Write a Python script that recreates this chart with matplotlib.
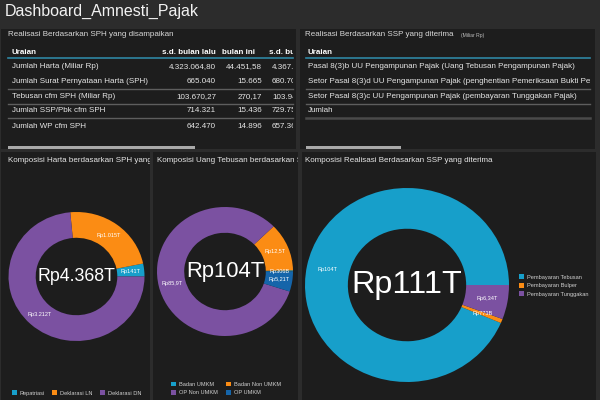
import matplotlib
matplotlib.use('Agg')
import matplotlib.pyplot as plt
import matplotlib.transforms as mtrans
import numpy as np
from matplotlib.patches import Rectangle

plt.rcParams['font.family'] = ['Liberation Sans', 'DejaVu Sans']

# ---------------- data ----------------
dashboard_title = "Dashboard_Amnesti_Pajak"

t1_title = "Realisasi Berdasarkan SPH yang disampaikan"
t1_columns = ["Uraian", "s.d. bulan lalu", "bulan ini", "s.d. bulan ini"]
t1_rows = ["Jumlah Harta (Miliar Rp)", "Jumlah Surat Pernyataan Harta (SPH)",
           "Tebusan cfm SPH (Miliar Rp)", "Jumlah SSP/Pbk cfm SPH", "Jumlah WP cfm SPH"]
t1_prev = ["4.323.064,80", "665.040", "103.670,27", "714.321", "642.470"]
t1_month = ["44.451,58", "15.665", "270,17", "15.436", "14.896"]
t1_total = ["4.367.516,38", "680.705", "103.940,44", "729.757", "657.366"]

t2_title = "Realisasi Berdasarkan SSP yang diterima"
t2_unit = "(Miliar Rp)"
t2_columns = ["Uraian"]
t2_rows = ["Pasal 8(3)b UU Pengampunan Pajak (Uang Tebusan Pengampunan Pajak)",
           "Setor Pasal 8(3)d UU Pengampunan Pajak (penghentian Pemeriksaan Bukti Permulaan)",
           "Setor Pasal 8(3)c UU Pengampunan Pajak (pembayaran Tunggakan Pajak)",
           "Jumlah"]

harta_title = "Komposisi Harta berdasarkan SPH yang disampaikan"
harta_labels = ["Repatriasi", "Deklarasi LN", "Deklarasi DN"]
harta_values = [141, 1015, 3212]
harta_text = ["Rp141T", "Rp1.015T", "Rp3.212T"]
harta_total = "Rp4.368T"

tebusan_title = "Komposisi Uang Tebusan berdasarkan SPH"
tebusan_labels = ["Badan UMKM", "Badan Non UMKM", "OP Non UMKM", "OP UMKM"]
tebusan_values = [0.306, 12.5, 85.9, 5.21]
tebusan_text = ["Rp306B", "Rp12,5T", "Rp85,9T", "Rp5,21T"]
tebusan_total = "Rp104T"

ssp_title = "Komposisi Realisasi Berdasarkan SSP yang diterima"
ssp_labels = ["Pembayaran Tebusan", "Pembayaran Bulper", "Pembayaran Tunggakan"]
ssp_values = [104, 0.773, 6.34]
ssp_text = ["Rp104T", "Rp773B", "Rp6,34T"]
ssp_total = "Rp111T"

# ---------------- style ----------------
W, H = 600, 400
BG = '#2c2c2c'
PANEL = '#1d1d1d'
TXT = '#e6e6e6'
TEAL = '#179fca'
ORANGE = '#fb8c14'
PURPLE = '#7b51a1'
DBLUE = '#1565aa'
LINE = '#5e5e5e'
HEADLINE = '#2f86a3'

fig = plt.figure(figsize=(6, 4), dpi=100, facecolor=BG)


def fr(x0, y0, x1, y1):
    return [x0 / W, 1 - y1 / H, (x1 - x0) / W, (y1 - y0) / H]


def panel(x0, y0, x1, y1):
    ax = fig.add_axes(fr(x0, y0, x1, y1))
    ax.set_xlim(x0, x1)
    ax.set_ylim(y1, y0)
    ax.set_facecolor(PANEL)
    ax.set_xticks([])
    ax.set_yticks([])
    for s in ax.spines.values():
        s.set_visible(False)
    return ax


def clipped(ax, x, y, s, xmax, **kw):
    t = ax.text(x, y, s, va='center', clip_on=True, **kw)
    t.set_clip_box(mtrans.Bbox.from_extents(0, 0, xmax, H))
    return t


FS = 5.8

fig.text(5 / W, 1 - 11 / H, dashboard_title, fontsize=11.5, color='#f2f2f2',
         ha='left', va='center')

# ---------- table 1 ----------
a1 = panel(1, 29, 296, 149)
X1 = 293
clipped(a1, 8, 35, t1_title, X1, fontsize=FS, color='#d8d8d8', ha='left')
clipped(a1, 12, 52, t1_columns[0], X1, fontsize=FS, color='white', ha='left', fontweight='bold')
clipped(a1, 216, 52, t1_columns[1], X1, fontsize=FS, color='white', ha='right', fontweight='bold')
clipped(a1, 255, 52, t1_columns[2], X1, fontsize=FS, color='white', ha='right', fontweight='bold')
clipped(a1, 269, 52, t1_columns[3], X1, fontsize=FS, color='white', ha='left', fontweight='bold')
a1.plot([8, X1], [58, 58], color=HEADLINE, lw=1.2)
row_y = [67, 81.5, 96.5, 111, 126]
for i, y in enumerate(row_y):
    clipped(a1, 12, y, t1_rows[i], X1, fontsize=FS, color=TXT, ha='left')
    clipped(a1, 216, y, t1_prev[i], X1, fontsize=FS, color=TXT, ha='right')
    clipped(a1, 262, y, t1_month[i], X1, fontsize=FS, color=TXT, ha='right')
    clipped(a1, 272, y, t1_total[i], X1, fontsize=FS, color=TXT, ha='left')
for y in [88.5, 103.5, 118]:
    a1.plot([8, X1], [y, y], color=LINE, lw=1)
a1.add_patch(Rectangle((8, 146), 187, 2.5, color='#a9a9a9', lw=0))

# ---------- table 2 ----------
a2 = panel(300, 29, 595, 149)
X2 = 590
clipped(a2, 305, 35, t2_title, X2, fontsize=FS, color='#d8d8d8', ha='left')
clipped(a2, 461, 36, t2_unit, X2, fontsize=3.6, color='#bdbdbd', ha='left')
clipped(a2, 308, 52, t2_columns[0], X2, fontsize=FS, color='white', ha='left', fontweight='bold')
a2.plot([306, X2], [58, 58], color=HEADLINE, lw=1.2)
for i, y in enumerate(row_y[:4]):
    clipped(a2, 308, y, t2_rows[i], X2, fontsize=FS, color=TXT, ha='left')
for y in [88.5, 103.5]:
    a2.plot([306, X2], [y, y], color=LINE, lw=1)
a2.plot([306, X2], [117.5, 117.5], color='#4a4a4a', lw=1.8)
a2.add_patch(Rectangle((306, 146), 95, 2.5, color='#a9a9a9', lw=0))

# ---------- donut panels ----------
a3 = panel(1, 152, 150, 400)
a4 = panel(153, 152, 298, 400)
a5 = panel(302, 152, 596, 400)
a3.text(8, 161, harta_title, fontsize=FS, color=TXT, ha='left', va='center', clip_on=True)
a4.text(157, 161, tebusan_title, fontsize=FS, color=TXT, ha='left', va='center', clip_on=True)
a5.text(305, 161, ssp_title, fontsize=FS, color=TXT, ha='left', va='center', clip_on=True)


def donut(cx, cy, rx, ry, values, colors, texts, total, total_fs, width, lab_fs=4.0):
    ax = fig.add_axes(fr(cx - rx, cy - ry, cx + rx, cy + ry))
    wedges, _ = ax.pie(values, colors=colors, startangle=0, counterclock=True,
                       radius=1, wedgeprops=dict(width=width, edgecolor='none', linewidth=0))
    ax.set_aspect('auto')
    ax.set_xlim(-1, 1)
    ax.set_ylim(-1, 1)
    for w, t in zip(wedges, texts):
        ang = np.deg2rad((w.theta1 + w.theta2) / 2)
        ax.text(0.8 * np.cos(ang), 0.8 * np.sin(ang), t, ha='center', va='center',
                fontsize=lab_fs, color='white')
    ax.text(0, 0, total, ha='center', va='center', fontsize=total_fs, color='white')
    return wedges


w3 = donut(76.5, 276.5, 68, 64.5, harta_values, [TEAL, ORANGE, PURPLE], harta_text,
           harta_total, 12.8, 0.4)
w4 = donut(225, 271.5, 68, 64.5, tebusan_values, [TEAL, ORANGE, PURPLE, DBLUE], tebusan_text,
           tebusan_total, 15.8, 0.4)
w5 = donut(407, 285, 102, 97, ssp_values, [TEAL, ORANGE, PURPLE], ssp_text,
           ssp_total, 23.3, 0.42)

leg_kw = dict(frameon=False, fontsize=4.1, labelcolor='#d0d0d0', handlelength=0.9,
              handleheight=0.9, handletextpad=0.5, borderpad=0, borderaxespad=0,
              bbox_transform=fig.transFigure)
fig.legend(w3, harta_labels, loc='center', bbox_to_anchor=(76.5 / W, 1 - 393 / H),
           ncol=3, columnspacing=1.3, **leg_kw)
# row-wise order for a 2-column legend (matplotlib fills column by column)
order4 = [0, 2, 1, 3]
fig.legend([w4[i] for i in order4], [tebusan_labels[i] for i in order4], loc='center',
           bbox_to_anchor=(226 / W, 1 - 388.5 / H),
           ncol=2, columnspacing=1.3, labelspacing=0.55, **leg_kw)
fig.legend(w5, ssp_labels, loc='center left', bbox_to_anchor=(519 / W, 1 - 285.5 / H),
           ncol=1, labelspacing=0.55, **leg_kw)

fig.savefig('out.png', dpi=100, facecolor=BG)
